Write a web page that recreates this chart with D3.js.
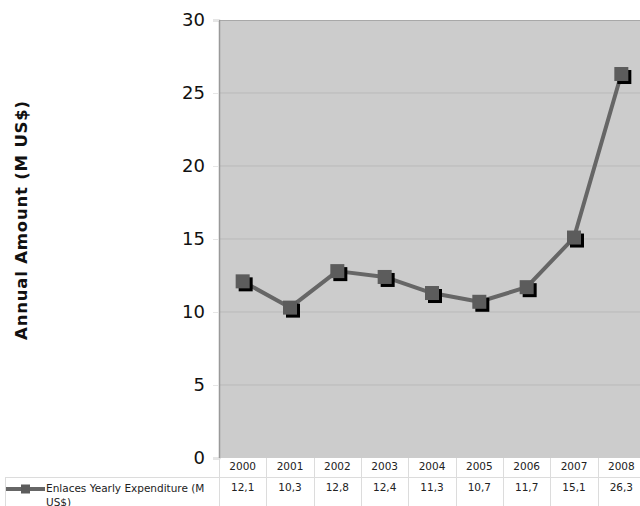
<!DOCTYPE html>
<html>
<head>
<meta charset="utf-8">
<script src="https://cdn.jsdelivr.net/npm/d3@7"></script>
<style>
  html, body { margin: 0; padding: 0; background: #fff; }
  svg { display: block; font-family: "DejaVu Sans", Verdana, sans-serif; }
</style>
</head>
<body>
<svg id="chart" width="640" height="506"></svg>
<script>
// Enlaces yearly expenditure, millions of US$
const years = ["2000", "2001", "2002", "2003", "2004", "2005", "2006", "2007", "2008"];
const expenditure = [12.1, 10.3, 12.8, 12.4, 11.3, 10.7, 11.7, 15.1, 26.3];
const valueLabels = ["12,1", "10,3", "12,8", "12,4", "11,3", "10,7", "11,7", "15,1", "26,3"];
const yTicks = [0, 5, 10, 15, 20, 25, 30];
const seriesName = "Enlaces Yearly Expenditure (M";
const seriesNameCont = "US$)";
const yTitle = "Annual Amount (M US$)";

const svg = d3.select("#chart");
const plot = { left: 219, right: 645, top: 20, bottom: 458 };

const x = d3.scaleBand().domain(years).range([plot.left, plot.right]).padding(0);
const y = d3.scaleLinear().domain([0, 30]).range([plot.bottom, plot.top]);

// plot background
svg.append("rect")
  .attr("x", plot.left).attr("y", plot.top)
  .attr("width", plot.right - plot.left).attr("height", plot.bottom - plot.top)
  .attr("fill", "#cccccc");

// horizontal gridlines
svg.append("g").selectAll("line")
  .data(yTicks.filter(t => t > 0 && t < 30))
  .join("line")
  .attr("x1", plot.left).attr("x2", plot.right)
  .attr("y1", d => y(d)).attr("y2", d => y(d))
  .attr("stroke", "#b9b9b9").attr("stroke-width", 1);

// top border
svg.append("line")
  .attr("x1", plot.left).attr("x2", plot.right)
  .attr("y1", plot.top + 0.5).attr("y2", plot.top + 0.5)
  .attr("stroke", "#a8a8a8");

// y axis
const yAxis = d3.axisLeft(y).tickValues(yTicks).tickSize(6).tickPadding(8);
const gy = svg.append("g")
  .attr("transform", `translate(${plot.left},0)`)
  .call(yAxis);
gy.select(".domain").attr("stroke", "#999").attr("stroke-width", 1.5);
gy.selectAll(".tick line").attr("stroke", "#e6e6e6");
gy.selectAll(".tick text")
  .attr("font-size", 18).attr("fill", "#111")
  .attr("font-family", "DejaVu Sans, Verdana, sans-serif");

// y axis title
svg.append("text")
  .attr("transform", "translate(27,220) rotate(-90)")
  .attr("text-anchor", "middle")
  .attr("font-size", 16.5).attr("font-weight", "bold").attr("fill", "#111")
  .attr("letter-spacing", 0.8)
  .text(yTitle);

// data table grid
const tableTop = plot.bottom, rowSplit = 477, tableBottom = 506;
const grid = svg.append("g").attr("stroke", "#dcdcdc").attr("stroke-width", 1);
grid.append("line").attr("x1", 5).attr("x2", plot.right)
  .attr("y1", rowSplit + 0.5).attr("y2", rowSplit + 0.5);
grid.append("line").attr("x1", 5.5).attr("x2", 5.5)
  .attr("y1", rowSplit).attr("y2", tableBottom);
grid.selectAll("line.v")
  .data(years.concat(["end"]))
  .join("line").attr("class", "v")
  .attr("x1", (d, i) => Math.round(plot.left + i * x.bandwidth()) + 0.5)
  .attr("x2", (d, i) => Math.round(plot.left + i * x.bandwidth()) + 0.5)
  .attr("y1", tableTop).attr("y2", tableBottom);

// year row
svg.append("g").selectAll("text")
  .data(years)
  .join("text")
  .attr("x", d => x(d) + x.bandwidth() / 2)
  .attr("y", 470)
  .attr("text-anchor", "middle")
  .attr("font-size", 10.5).attr("fill", "#222")
  .text(d => d);

// value row
svg.append("g").selectAll("text")
  .data(valueLabels)
  .join("text")
  .attr("x", (d, i) => x(years[i]) + x.bandwidth() / 2)
  .attr("y", 491)
  .attr("text-anchor", "middle")
  .attr("font-size", 10.5).attr("fill", "#222")
  .text(d => d);

// legend key in the table
const legendY = 489;
svg.append("line")
  .attr("x1", 6).attr("x2", 45).attr("y1", legendY).attr("y2", legendY)
  .attr("stroke", "#666").attr("stroke-width", 4);
svg.append("rect")
  .attr("x", 21).attr("y", legendY - 4.5).attr("width", 9).attr("height", 9)
  .attr("fill", "#5c5c5c");
svg.append("text")
  .attr("x", 46).attr("y", 492)
  .attr("font-size", 10.5).attr("fill", "#222")
  .text(seriesName);
svg.append("text")
  .attr("x", 46).attr("y", 506)
  .attr("font-size", 10.5).attr("fill", "#222")
  .text(seriesNameCont);

// series line
const cx = d => x(d) + x.bandwidth() / 2;
const line = d3.line()
  .x((d, i) => cx(years[i]))
  .y(d => y(d));
svg.append("path")
  .datum(expenditure)
  .attr("d", line)
  .attr("fill", "none")
  .attr("stroke", "#666666")
  .attr("stroke-width", 4)
  .attr("stroke-linejoin", "round");

// square markers with drop shadow
const ms = 14, off = 3;
const markers = svg.append("g");
markers.selectAll("rect.shadow")
  .data(expenditure)
  .join("rect").attr("class", "shadow")
  .attr("x", (d, i) => cx(years[i]) - ms / 2 + off)
  .attr("y", d => y(d) - ms / 2 + off)
  .attr("width", ms).attr("height", ms)
  .attr("fill", "#000");
markers.selectAll("rect.mark")
  .data(expenditure)
  .join("rect").attr("class", "mark")
  .attr("x", (d, i) => cx(years[i]) - ms / 2)
  .attr("y", d => y(d) - ms / 2)
  .attr("width", ms).attr("height", ms)
  .attr("fill", "#5c5c5c");
</script>
</body>
</html>
